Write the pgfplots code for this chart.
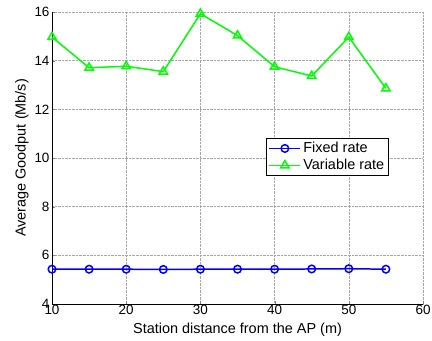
\documentclass[border=0pt]{standalone}
\usepackage{pgfplots}
\pgfplotsset{compat=1.18}
\usepackage{fontspec}
\setmainfont{Liberation Sans}
\begin{document}
\begin{tikzpicture}
\begin{axis}[
  name=ax,
  scale only axis,
  width=371bp, height=292bp,
  xmin=10, xmax=60, ymin=4, ymax=16,
  xtick={10,20,...,60}, ytick={4,6,...,16},
  minor y tick num=4,
  axis x line=bottom, axis y line=left,
  axis line style={-, line width=0.7pt},
  tick align=inside,
  major tick length=3pt, minor tick length=1.5pt,
  grid=major,
  major grid style={densely dotted, gray!70, line width=0.6pt},
  tick label style={font=\fontsize{13.5}{15}\selectfont},
  xticklabel style={yshift=2pt},
  yticklabel style={xshift=1pt},
  /pgf/number format/assume math mode=true,
  xlabel={Station distance from the AP (m)},
  ylabel={Average Goodput (Mb/s)},
  xlabel style={font=\fontsize{14.5}{16}\selectfont, at={(axis description cs:0.5,-0.089)}, anchor=center},
  ylabel style={font=\fontsize{14.5}{16}\selectfont, at={(axis description cs:-0.081,0.5)}, anchor=center, rotate=0},
  legend style={at={(0.577,0.568)}, anchor=north west, draw=black, line width=0.7pt,
    font=\fontsize{14.5}{16}\selectfont, inner sep=2pt, row sep=1pt},
  legend image code/.code={%
    \draw[line width=1.8pt] (0cm,0cm) -- (1.1cm,0cm);
    \draw[line width=1.5pt] plot coordinates {(0.55cm,0cm)};},
  legend cell align=left,
]
\addplot[color={rgb,255:red,0;green,0;blue,255}, line width=1.5pt, mark=o, mark size=3.8pt, mark options={line width=1.5pt}]
coordinates {(10,5.43) (15,5.43) (20,5.43) (25,5.42) (30,5.43) (35,5.43) (40,5.43) (45,5.44) (50,5.45) (55,5.43)};
\addlegendentry{Fixed rate}
\addplot[color={rgb,255:red,0;green,255;blue,0}, line width=1.5pt, mark=triangle, mark size=4.8pt, mark options={line width=1.5pt}]
coordinates {(10,14.97) (15,13.71) (20,13.77) (25,13.55) (30,15.93) (35,15.03) (40,13.75) (45,13.37) (50,14.97) (55,12.86)};
\addlegendentry{Variable rate}
\end{axis}
\pgfresetboundingbox
\path ([shift={(-52bp,-37bp)}]ax.south west) rectangle ([shift={(9bp,12bp)}]ax.north east);
\end{tikzpicture}
\end{document}
